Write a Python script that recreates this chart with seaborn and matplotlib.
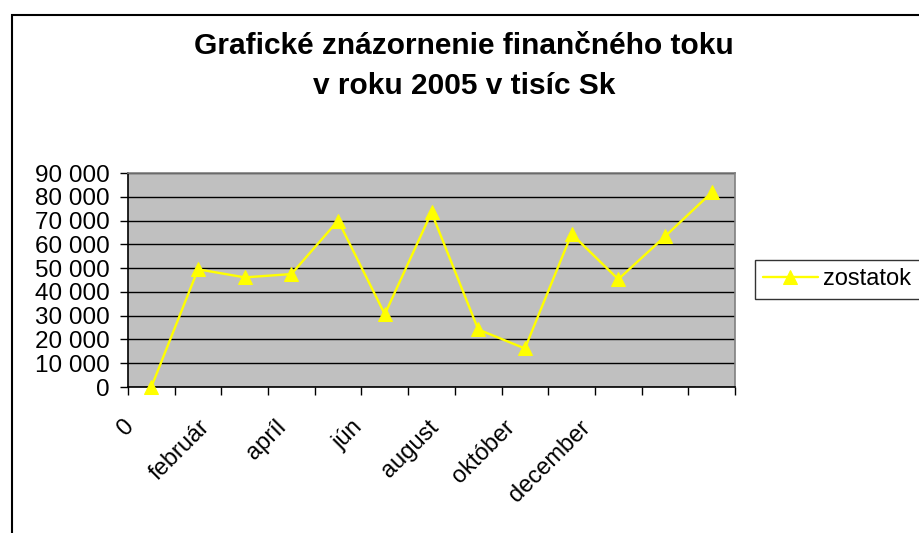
import numpy as np
import pandas as pd
import matplotlib
matplotlib.use('Agg')
import matplotlib.pyplot as plt
import matplotlib.ticker as mticker
from matplotlib.patches import Rectangle
import seaborn as sns

# --- data ---
mesiace = ['0', 'január', 'február', 'marec', 'apríl', 'máj', 'jún', 'júl',
           'august', 'september', 'október', 'november', 'december']
zostatok = [0, 49500, 46100, 47500, 70000, 30600, 73400, 24200, 16200,
            64400, 45300, 63300, 81800]
zobrazene_popisky = ['0', 'február', 'apríl', 'jún', 'august', 'október', 'december']

nadpis_1 = "Grafické znázornenie finančného toku"
nadpis_2 = "v roku 2005 v tisíc Sk"

df = pd.DataFrame({'poradie': np.arange(len(mesiace)), 'mesiac': mesiace,
                   'zostatok': zostatok})

sns.set_theme(style="white")
plt.rcParams['font.family'] = ['Liberation Sans', 'DejaVu Sans']
plt.rcParams['text.color'] = 'black'
plt.rcParams['xtick.color'] = 'black'
plt.rcParams['ytick.color'] = 'black'

fig = plt.figure(figsize=(9.2, 5.33), dpi=100)
ax = fig.add_axes([128 / 920, 1 - 387 / 533, 607 / 920, 214 / 533])
ax.set_facecolor('#C0C0C0')

sns.lineplot(data=df, x='poradie', y='zostatok', ax=ax, color='#FFFF00',
             marker='^', markersize=10.5, markeredgecolor='#FFFF00',
             linewidth=1.7, label='zostatok', zorder=3, clip_on=False)

# y axis
ax.set_ylim(0, 90000)
ax.set_yticks(np.arange(0, 90001, 10000))
ax.yaxis.set_major_formatter(mticker.FuncFormatter(
    lambda v, p: f"{int(v):,}".replace(',', ' ')))
ax.grid(axis='y', color='black', linewidth=1)
ax.set_axisbelow(True)

# x axis - ticks between categories, labels (as in the original) squeezed
n = len(mesiace)
ax.set_xlim(-0.5, n - 0.5)
ax.xaxis.remove_overlapping_locs = False
ax.set_xticks(np.arange(-0.5, n, 1.0))
ax.set_xticklabels([])
ax.set_xticks(np.arange(len(zobrazene_popisky)) * 1.63 - 0.28, minor=True)
ax.set_xticklabels(zobrazene_popisky, minor=True, rotation=45,
                   ha='right', va='top', fontsize=17)

ax.tick_params(axis='y', which='major', direction='out', length=6, width=1,
               color='black', labelsize=17.5, pad=7, left=True)
ax.tick_params(axis='x', which='major', direction='out', length=6, width=1,
               color='black', bottom=True)
ax.tick_params(axis='x', which='minor', length=0, pad=21, bottom=True)

for side, sp in ax.spines.items():
    sp.set_visible(True)
    sp.set_color('#808080')
    sp.set_linewidth(1.2)
ax.spines['left'].set_color('black')
ax.spines['bottom'].set_color('black')

ax.set_xlabel('')
ax.set_ylabel('')

leg = ax.legend(loc='upper left', bbox_to_anchor=(755 / 920, 1 - 260 / 533),
                bbox_transform=fig.transFigure, borderaxespad=0, fontsize=17,
                frameon=True, fancybox=False, edgecolor='black',
                handlelength=2.3, handletextpad=0.25, borderpad=0.35,
                numpoints=1)
leg.get_frame().set_linewidth(1)

# titles
fig.text(464 / 920, 1 - 54 / 533, nadpis_1, ha='center', va='baseline',
         fontsize=21.5, fontweight='bold', color='black')
fig.text(464 / 920, 1 - 94 / 533, nadpis_2, ha='center', va='baseline',
         fontsize=21.5, fontweight='bold', color='black')

# chart area border (cut off at the right and bottom edge)
fig.add_artist(Rectangle((11.5 / 920, -0.05), 1.2, 1 - 15 / 533 + 0.05,
                         transform=fig.transFigure, fill=False,
                         edgecolor='black', linewidth=1.5))

fig.savefig('out.png', dpi=100)
plt.close(fig)
